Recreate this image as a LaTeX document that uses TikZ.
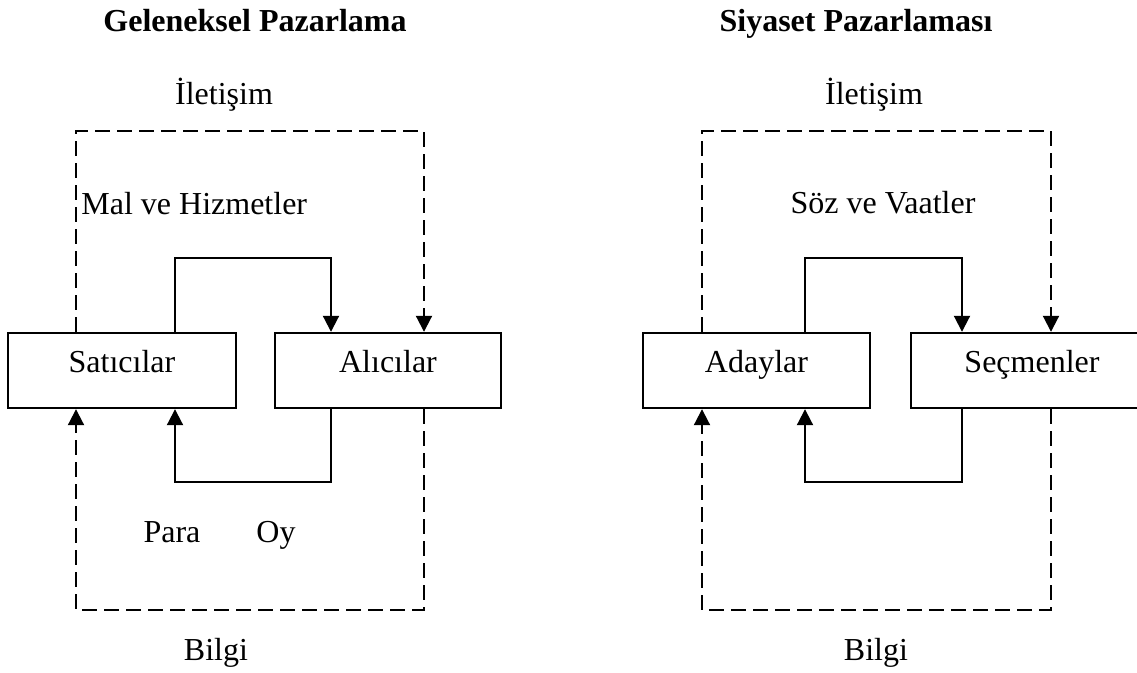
\documentclass[tikz,border=0pt]{standalone}
\usepackage{fontspec}
\setmainfont{Liberation Serif}
\usetikzlibrary{arrows.meta}
\begin{document}
\begin{tikzpicture}[x=0.5pt,y=-0.5pt,
  txt/.style={font=\fontsize{16}{19}\selectfont},
  box/.style={txt,draw,line width=1.2pt,minimum height=37.5pt,inner sep=0pt,
    text height=10pt,text depth=7.5pt},
  lbl/.style={txt,inner sep=0pt,anchor=base},
  ttl/.style={lbl,font=\fontsize{16}{19}\selectfont\bfseries},
  flow/.style={line width=1pt,-{Triangle[width=8pt,length=8pt]}},
  info/.style={flow,dash pattern=on 7.5pt off 3.5pt}]
\useasboundingbox (0,0) rectangle (1137,673);

% ---------- Geleneksel Pazarlama ----------
\node[ttl] (t1) at (255,32) {Geleneksel Pazarlama};
\node[lbl] (i1) at (224,105) {İletişim};
\node[lbl,anchor=base west] (mh) at (81,215) {Mal ve Hizmetler};
\node[lbl] (para) at (172,543) {Para};
\node[lbl] (oy) at (276,543) {Oy};
\node[lbl] (bl1) at (216,661) {Bilgi};

\node[box,minimum width=114pt] (sat) at (122,370.5) {Satıcılar};
\node[box,minimum width=113pt] (al) at (388,370.5) {Alıcılar};

\coordinate (s1) at (175,258);
\coordinate (s2) at (331,258);
\coordinate (r1) at (331,482);
\coordinate (r2) at (175,482);
\coordinate (d1) at (76,131);
\coordinate (d2) at (424,131);
\coordinate (d3) at (424,610);
\coordinate (d4) at (76,610);

\draw[flow] (sat.north -| s1) -- (s1) -- (s2) -- (al.north -| s2);
\draw[flow] (al.south -| r1) -- (r1) -- (r2) -- (sat.south -| r2);
\draw[info] (sat.north -| d1) -- (d1) -- (d2) -- (al.north -| d2);
\draw[info] (al.south -| d3) -- (d3) -- (d4) -- (sat.south -| d4);

% ---------- Siyaset Pazarlaması ----------
\node[ttl] (t2) at (856,32) {Siyaset Pazarlaması};
\node[lbl] (i2) at (874,105) {İletişim};
\node[lbl] (sv) at (883,214) {Söz ve Vaatler};
\node[lbl] (bl2) at (876,661) {Bilgi};

\node[box,minimum width=113.5pt] (ad) at (756.5,370.5) {Adaylar};
\node[box,minimum width=121pt] (sec) at (1032,370.5) {Seçmenler};

\coordinate (p1) at (805,258);
\coordinate (p2) at (962,258);
\coordinate (q1) at (962,482);
\coordinate (q2) at (805,482);
\coordinate (e1) at (702,131);
\coordinate (e2) at (1051,131);
\coordinate (e3) at (1051,610);
\coordinate (e4) at (702,610);

\draw[flow] (ad.north -| p1) -- (p1) -- (p2) -- (sec.north -| p2);
\draw[flow] (sec.south -| q1) -- (q1) -- (q2) -- (ad.south -| q2);
\draw[info] (ad.north -| e1) -- (e1) -- (e2) -- (sec.north -| e2);
\draw[info] (sec.south -| e3) -- (e3) -- (e4) -- (ad.south -| e4);
\end{tikzpicture}
\end{document}
